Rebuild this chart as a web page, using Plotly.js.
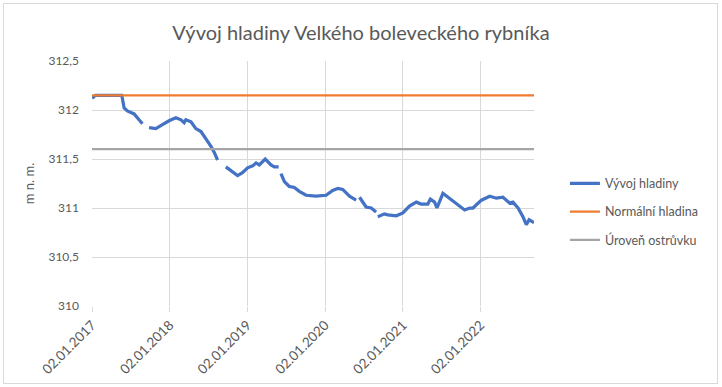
<!DOCTYPE html>
<html>
<head>
<meta charset="utf-8">
<script src="https://cdn.plot.ly/plotly-3.0.1.min.js"></script>
<style>
html,body{margin:0;padding:0;background:#fff;}
#wrap{position:relative;width:722px;height:387px;}
#chart{width:722px;height:387px;}
#frame{position:absolute;left:3px;top:3px;width:713px;height:379px;border:1px solid #d9d9d9;pointer-events:none;}
</style>
</head>
<body>
<div id="wrap"><div id="chart"></div><div id="frame"></div></div>
<script>
// Level measurements (null = missing data)
const dates = [
 '2017-01-02','2017-01-19','2017-05-22','2017-06-02','2017-06-17','2017-07-19','2017-08-11','2017-08-27',
 '2017-09-12',
 '2017-09-27','2017-10-29','2017-11-29','2017-12-30','2018-01-31','2018-02-24','2018-03-11','2018-03-19',
 '2018-04-12','2018-05-05','2018-05-29','2018-06-21','2018-07-15','2018-07-30','2018-08-15',
 '2018-09-03',
 '2018-09-23','2018-10-24','2018-11-17','2018-12-10','2019-01-03','2019-01-27','2019-02-12','2019-02-27',
 '2019-03-27','2019-04-23','2019-05-09','2019-05-29',
 '2019-06-04',
 '2019-06-09','2019-06-25','2019-07-18','2019-08-11','2019-09-03','2019-10-05','2019-11-21','2020-01-07',
 '2020-02-07','2020-03-02','2020-03-25','2020-04-26','2020-05-27',
 '2020-06-04',
 '2020-06-12','2020-07-13','2020-08-06','2020-08-29',
 '2020-09-02',
 '2020-09-06','2020-10-07','2020-10-23','2020-12-02','2021-01-02','2021-02-02','2021-03-06','2021-03-29',
 '2021-04-29','2021-05-11','2021-05-31','2021-06-11','2021-07-09','2021-08-09','2021-09-10','2021-10-19',
 '2021-11-12','2021-11-27','2022-01-06','2022-02-14','2022-03-17','2022-04-17','2022-05-19','2022-06-03',
 '2022-06-27','2022-07-20','2022-08-05','2022-08-18','2022-09-10'
];
const vyvojHladiny = [
 312.12,312.15,312.15,312.02,311.99,311.96,311.90,311.86,
 null,
 311.82,311.81,311.85,311.89,311.92,311.90,311.87,311.90,
 311.88,311.81,311.78,311.71,311.63,311.57,311.49,
 null,
 311.42,311.37,311.33,311.36,311.41,311.43,311.46,311.44,
 311.50,311.44,311.42,311.42,
 null,
 311.35,311.27,311.22,311.21,311.17,311.13,311.12,311.13,
 311.18,311.20,311.19,311.12,311.08,
 null,
 311.11,311.01,311.00,310.96,
 null,
 310.91,310.94,310.93,310.92,310.95,311.02,311.06,311.04,
 311.04,311.09,311.06,311.00,311.15,311.10,311.05,310.98,
 311.00,311.00,311.08,311.12,311.10,311.11,311.05,311.06,
 311.00,310.91,310.83,310.88,310.85
];
const normalniHladina = 312.15;
const urovenOstruvku = 311.6;
const seriesNames = ['Vývoj hladiny','Normální hladina','Úroveň ostrůvku'];
const tickDates = ['2017-01-02','2018-01-02','2019-01-02','2020-01-02','2021-01-02','2022-01-02'];
const tickLabels = ['02.01.2017','02.01.2018','02.01.2019','02.01.2020','02.01.2021','02.01.2022'];
const yTicks = [310,310.5,311,311.5,312,312.5];

const firstDate = dates[0], lastDate = dates[dates.length-1];
const font = 'Lato, "Open Sans", sans-serif';
const textColor = '#595959';

const traces = [
 {x:dates, y:vyvojHladiny, name:seriesNames[0], type:'scatter', mode:'lines',
  connectgaps:false, line:{color:'#4472C4', width:3.25}, legendgroup:'a'},
 {x:[firstDate,lastDate], y:[normalniHladina,normalniHladina], name:seriesNames[1], type:'scatter', mode:'lines',
  line:{color:'#ED7D31', width:2.25}, legendgroup:'b'},
 {x:[firstDate,lastDate], y:[urovenOstruvku,urovenOstruvku], name:seriesNames[2], type:'scatter', mode:'lines',
  line:{color:'#A5A5A5', width:2.25}, legendgroup:'c'}
];

const layout = {
 width:722, height:387,
 margin:{l:92, r:188, t:61, b:81},
 paper_bgcolor:'rgba(0,0,0,0)', plot_bgcolor:'#fff',
 separators:', ',
 font:{family:font, color:textColor, size:12},
 title:{text:'Vývoj hladiny Velkého boleveckého rybníka', font:{family:font, size:20, color:textColor},
  x:0.5, xref:'container', xanchor:'center', y:0.915, yanchor:'middle'},
 xaxis:{type:'date', range:[firstDate,lastDate], tickvals:tickDates, ticktext:tickLabels,
  tickangle:-45, showgrid:true, gridcolor:'#d9d9d9', gridwidth:1, zeroline:false, showline:false,
  ticks:'outside', ticklen:5, tickcolor:'#d9d9d9', tickfont:{size:13.5, color:textColor}},
 yaxis:{range:[310,312.5], tickvals:yTicks, showgrid:true, gridcolor:'#d9d9d9',
  gridwidth:1, zeroline:false, showline:false, ticks:'', ticklabelstandoff:12,
  tickfont:{size:12, color:textColor},
  title:{text:'m n. m.', font:{size:13, color:textColor}, standoff:10}},
 legend:{x:1.07, xanchor:'left', y:0.385, yanchor:'middle', font:{size:12.5, color:textColor},
  tracegroupgap:9, bgcolor:'rgba(0,0,0,0)'},
 showlegend:true
};
layout.yaxis.ticktext = yTicks.map(v => String(v).replace('.', ','));

Plotly.newPlot('chart', traces, layout, {displayModeBar:false, staticPlot:true});
</script>
</body>
</html>
